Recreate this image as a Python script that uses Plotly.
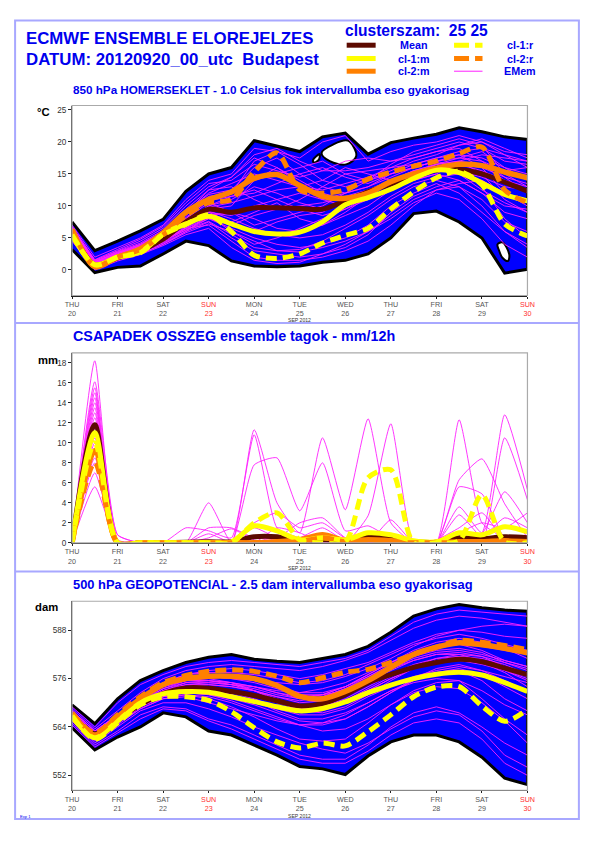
import plotly.graph_objects as go

# ---------------- time axis (hours after 2012-09-20 00 UTC) ----------------
steps_h = [0, 12, 24, 36, 48, 60, 72, 84, 96, 108, 120, 132, 144, 156, 168, 180, 192, 204, 216, 228, 240]
tick_h = [0, 24, 48, 72, 96, 120, 144, 168, 192, 216, 240]
day_names = ["THU", "FRI", "SAT", "SUN", "MON", "TUE", "WED", "THU", "FRI", "SAT", "SUN"]
day_nums = ["20", "21", "22", "23", "24", "25", "26", "27", "28", "29", "30"]

# ---------------- 850 hPa temperature (deg C) ----------------
t_env_upper = [7.5, 3.0, 4.5, 6.1, 7.9, 12.3, 15.0, 16.0, 20.2, 19.4, 18.5, 20.8, 21.4, 18.1, 19.9, 20.6, 21.2, 22.2, 21.6, 20.8, 20.4]
t_env_lower = [3.2, -0.4, 0.4, 0.6, 2.5, 4.5, 3.8, 1.4, 0.6, 0.5, 0.6, 1.2, 1.5, 2.5, 5.0, 8.8, 9.2, 7.5, 5.0, -0.5, 0.1]
t_hole1_h = [131.5, 137.5, 145.4, 149.8, 144.5, 135.8]
t_hole1_v = [18.3, 19.6, 20.2, 17.8, 16.5, 17.0]
t_hole2_h = [127.0, 130.5, 130.0, 127.5]
t_hole2_v = [17.2, 18.1, 17.2, 16.8]
t_hole3_h = [224.2, 226.8, 230.4, 229.7, 226.8, 225.1]
t_hole3_v = [4.0, 4.3, 2.45, 1.4, 1.9, 3.0]
t_mean = [6.0, 0.8, 1.9, 3.0, 4.8, 7.5, 9.5, 9.0, 9.7, 9.7, 9.6, 9.5, 10.8, 12.2, 13.4, 14.6, 15.6, 15.7, 15.0, 13.7, 12.3]
t_cl1_m = [5.5, 0.8, 2.0, 2.8, 5.6, 7.2, 8.4, 7.2, 6.0, 5.6, 5.9, 7.5, 10.2, 11.3, 12.6, 14.3, 15.6, 15.2, 13.6, 11.8, 10.8]
t_cl2_m = [6.3, 0.5, 2.0, 3.3, 5.8, 9.0, 11.0, 12.2, 14.3, 14.9, 13.2, 11.5, 11.2, 12.0, 13.8, 15.0, 15.9, 16.5, 16.3, 15.3, 14.4]
t_cl1_r = [5.5, 0.8, 2.0, 2.7, 5.5, 7.1, 8.6, 6.0, 2.3, 1.8, 2.5, 4.2, 5.4, 6.5, 9.5, 12.2, 14.4, 15.4, 13.3, 7.2, 5.3]
t_cl2_r = [6.3, 0.6, 2.0, 3.2, 5.5, 8.5, 10.5, 11.0, 15.3, 18.3, 12.5, 12.0, 12.5, 14.2, 15.3, 16.2, 17.0, 18.2, 19.2, 12.5, 10.5]
t_members = [
    [6.5, 1.2, 2.5, 3.8, 5.5, 8.0, 11.0, 12.5, 16.0, 17.5, 15.0, 13.0, 12.0, 13.0, 15.0, 16.0, 17.0, 18.0, 17.5, 16.0, 15.0],
    [5.8, 0.8, 2.0, 3.0, 4.5, 6.5, 8.0, 6.5, 5.0, 4.0, 3.5, 4.0, 5.0, 7.0, 10.0, 12.0, 13.5, 12.0, 9.0, 6.0, 4.0],
    [6.0, 1.0, 2.2, 3.5, 5.0, 7.5, 10.0, 11.0, 13.0, 12.0, 10.5, 9.5, 10.5, 12.5, 14.0, 15.5, 16.0, 15.0, 14.0, 12.0, 11.0],
    [5.5, 0.5, 1.8, 2.8, 4.2, 6.0, 7.5, 5.0, 3.0, 2.5, 2.0, 2.5, 3.5, 5.5, 9.0, 11.5, 13.0, 14.0, 12.0, 9.0, 8.0],
    [6.8, 1.5, 3.0, 4.5, 6.5, 10.0, 13.0, 14.5, 18.0, 19.0, 17.0, 15.5, 15.5, 16.0, 17.0, 18.0, 19.0, 20.0, 19.0, 17.0, 16.5],
    [6.2, 1.0, 2.5, 3.5, 5.0, 7.0, 9.0, 8.5, 10.0, 11.0, 12.0, 11.0, 10.0, 11.0, 13.0, 14.5, 15.5, 16.5, 15.5, 14.0, 13.0],
    [5.0, 0.2, 1.5, 2.5, 4.0, 6.0, 8.5, 9.0, 8.0, 6.5, 6.0, 7.0, 8.5, 10.0, 12.5, 14.0, 15.0, 14.0, 12.0, 10.0, 9.5],
    [6.6, 1.3, 2.8, 4.0, 6.0, 9.0, 12.0, 13.5, 15.0, 14.0, 13.0, 12.5, 13.5, 14.5, 16.0, 17.5, 18.5, 19.0, 17.0, 14.5, 12.0],
    [5.7, 0.8, 2.0, 3.2, 4.8, 7.0, 9.5, 10.0, 14.0, 16.0, 14.0, 12.0, 11.0, 12.0, 14.0, 15.0, 16.5, 17.0, 18.0, 17.5, 17.0],
    [6.3, 1.1, 2.3, 3.6, 5.2, 8.0, 10.5, 9.0, 7.0, 8.0, 9.0, 10.0, 12.0, 13.0, 14.5, 16.0, 17.0, 16.0, 13.0, 8.0, 5.0],
    [5.2, 0.4, 1.6, 2.9, 4.5, 6.5, 7.0, 4.5, 2.0, 1.5, 1.5, 2.0, 3.0, 4.5, 7.0, 10.0, 12.5, 13.0, 11.0, 7.5, 6.0],
    [6.1, 0.9, 2.4, 3.4, 5.5, 8.5, 11.5, 12.0, 17.0, 18.5, 16.5, 14.0, 13.0, 14.0, 15.5, 17.0, 18.0, 19.5, 20.0, 18.5, 18.0],
    [5.9, 1.0, 2.1, 3.3, 4.9, 7.2, 9.0, 7.5, 9.0, 10.5, 8.0, 7.0, 9.0, 11.5, 13.5, 15.0, 16.0, 15.5, 14.5, 13.0, 12.5],
    [6.4, 1.4, 2.6, 3.9, 5.8, 8.8, 12.5, 13.0, 11.0, 9.5, 11.0, 13.0, 15.0, 15.5, 16.0, 16.5, 17.5, 18.0, 16.0, 12.0, 10.0],
    [5.4, 0.6, 1.9, 3.1, 4.4, 6.8, 8.5, 6.0, 4.0, 5.0, 6.5, 8.0, 9.5, 11.0, 13.0, 14.0, 15.0, 17.0, 15.0, 11.0, 9.0],
    [6.0, 1.2, 2.7, 3.7, 5.3, 7.8, 10.0, 11.5, 12.0, 13.5, 15.0, 16.0, 14.5, 13.5, 15.0, 16.0, 17.0, 17.5, 18.5, 16.0, 14.0],
    [5.6, 0.7, 2.0, 3.0, 4.6, 6.2, 8.0, 7.0, 6.0, 7.5, 8.5, 9.0, 11.0, 12.0, 13.5, 15.5, 16.5, 15.0, 12.5, 10.5, 9.0],
    [6.7, 1.6, 3.2, 4.8, 6.8, 10.5, 13.5, 14.0, 16.5, 15.5, 14.5, 15.5, 17.0, 17.5, 17.0, 17.5, 18.5, 19.5, 20.5, 19.0, 17.5],
    [4.5, 0.0, 1.4, 2.4, 3.8, 5.5, 6.5, 3.5, 1.5, 1.0, 1.2, 2.5, 4.0, 6.0, 8.5, 11.0, 12.5, 13.5, 14.0, 12.0, 10.5],
    [7.0, 2.0, 3.5, 5.0, 7.0, 11.0, 14.0, 15.0, 19.0, 18.5, 17.5, 20.0, 21.0, 17.0, 18.5, 19.5, 20.0, 21.0, 20.0, 18.0, 17.0],
    [5.3, 0.3, 1.7, 2.6, 4.0, 5.8, 7.2, 6.0, 4.5, 3.0, 2.8, 3.5, 4.5, 6.0, 8.0, 10.5, 12.0, 11.0, 8.0, 4.0, 2.0],
    [6.5, 1.5, 2.9, 4.2, 6.2, 9.5, 12.5, 14.5, 17.5, 16.0, 13.5, 11.0, 12.0, 14.0, 16.5, 18.5, 19.5, 20.5, 19.5, 15.0, 13.0],
    [5.9, 0.9, 2.2, 3.3, 4.7, 7.0, 9.8, 10.5, 11.5, 12.5, 13.0, 14.0, 16.0, 15.0, 14.0, 15.5, 16.5, 17.5, 17.0, 15.5, 16.0],
    [6.1, 1.0, 2.3, 3.5, 5.1, 7.6, 9.2, 8.0, 6.5, 5.5, 5.0, 5.5, 7.0, 9.0, 11.5, 13.5, 14.5, 15.0, 13.5, 11.5, 11.0],
    [5.6, 0.6, 1.9, 3.0, 4.6, 6.6, 8.2, 7.0, 8.5, 9.5, 10.0, 10.5, 11.5, 12.5, 14.0, 15.0, 16.0, 16.5, 16.0, 14.5, 13.5],
    [6.4, 1.3, 2.7, 4.0, 5.9, 9.2, 11.8, 12.5, 14.0, 15.0, 16.0, 17.0, 15.0, 14.0, 15.0, 16.5, 17.5, 18.5, 19.0, 18.0, 16.0],
    [5.1, 0.3, 1.6, 2.7, 4.3, 6.3, 7.6, 5.5, 3.5, 3.0, 3.2, 4.5, 6.5, 8.5, 11.0, 13.0, 14.0, 13.0, 10.0, 6.0, 3.5],
    [6.2, 1.1, 2.5, 3.7, 5.4, 8.2, 10.8, 11.5, 12.5, 11.0, 9.5, 8.5, 9.5, 11.5, 13.5, 15.0, 16.5, 17.0, 16.5, 14.0, 12.5],
]

# ---------------- 12h precipitation (mm) ----------------
p_mean = [0, 11.8, 0, 0, 0, 0.05, 0.1, 0.1, 0.6, 0.6, 0.2, 0.3, 0.2, 0.6, 0.4, 0.1, 0.05, 0.5, 0.4, 0.6, 0.5]
p_cl1_m = [0, 11.0, 0, 0, 0, 0, 0, 0.1, 1.7, 1.2, 0.3, 0.5, 0.3, 1.0, 0.8, 0.2, 0.1, 1.0, 0.8, 1.6, 1.1]
p_cl2_m = [0, 9.2, 0, 0, 0, 0, 0, 0, 0, 0.1, 0.3, 0.8, 0.2, 0.3, 0.2, 0, 0, 0.1, 0.1, 0.2, 0.1]
p_cl1_r = [0, 10.0, 0, 0, 0, 0, 0, 0, 2.0, 3.0, 0.3, 0, 0.1, 6.5, 7.3, 0, 0, 0.2, 4.8, 0.1, 0]
p_cl2_r = [0, 8.0, 0, 0, 0, 0, 0, 0, 0, 0, 0.1, 0.5, 0.1, 0, 0, 0, 0, 0, 0, 0, 0]
p_members = [
    [0, 18.2, 0, 0, 0, 0, 0, 0, 1.5, 0.5, 0.3, 0.2, 0, 0, 0, 0, 0, 12.3, 2.0, 0.5, 0.3],
    [0, 16.1, 0.8, 0, 0, 0, 0, 0, 11.3, 4.0, 1.0, 10.5, 3.3, 12.4, 2.0, 0, 0, 0.5, 1.0, 12.8, 5.3],
    [0, 15.5, 0, 0, 0, 0, 4.0, 0, 0, 0, 0, 0, 0, 0, 0, 0, 0, 0, 0, 0, 0],
    [0, 15.0, 0, 0, 0, 1.5, 1.2, 0.5, 10.8, 1.5, 0.5, 0.3, 0, 2.7, 11.9, 0, 0, 6.3, 8.4, 3.9, 0.5],
    [0, 14.5, 0, 0, 0, 0, 0, 0, 7.8, 8.5, 3.2, 8.0, 1.2, 1.7, 0.5, 0, 0, 0, 0, 10.5, 4.3],
    [0, 14.0, 0.8, 0, 0, 0, 1.5, 1.5, 0.5, 0.5, 2.0, 2.5, 0.5, 0, 0, 0, 0, 5.6, 4.9, 0.5, 0],
    [0, 13.5, 0, 0, 0, 0, 0.9, 0, 0, 0, 0, 0, 0, 0, 2.3, 0, 0, 3.6, 1.0, 5.1, 2.0],
    [0, 13.0, 0, 0, 0, 0, 0, 0, 2.0, 3.0, 1.5, 2.0, 0.5, 0.8, 0, 0, 0, 2.8, 0.5, 0, 0],
    [0, 12.5, 0, 0, 0, 0, 0.5, 1.4, 0.3, 0, 0, 0, 0, 0, 0, 0, 0, 0, 0, 0, 0],
    [0, 12.0, 0, 0, 0, 0, 0, 0, 0, 1.5, 1.0, 0, 0, 0, 0, 0, 0, 1.0, 2.0, 1.5, 3.0],
    [0, 11.5, 0.3, 0, 0, 0, 0, 0, 0, 0, 0, 0.8, 0, 0, 0, 0, 0.3, 1.5, 3.0, 0.3, 0],
    [0, 11.0, 0, 0, 0, 0, 0, 0, 0.6, 0, 0, 0, 0.5, 0.4, 0, 0, 0, 0, 0, 0, 0],
    [0, 10.5, 0, 0, 0, 0, 0, 0, 0, 0, 0.5, 1.5, 0.2, 0, 0, 0, 0, 0, 0.5, 2.5, 1.5],
    [0, 10.0, 0, 0, 0, 0, 0, 0, 0, 0, 0, 0, 0, 0, 0, 0, 0, 0.5, 0, 0, 0],
    [0, 9.5, 0, 0, 0, 0, 0, 0, 0, 0.4, 0, 0, 0, 0, 0, 0, 0, 0, 0, 0, 0],
    [0, 9.0, 0, 0, 0, 0, 0, 0, 0, 0, 0, 0, 0, 0, 0, 0, 0, 0, 0, 0, 0],
    [0, 8.5, 0, 0, 0, 0, 0, 0, 0, 0, 0, 0, 0, 0, 0, 0, 0, 0, 0, 0, 0],
    [0, 8.0, 0, 0, 0, 0, 0, 0, 0, 0, 0, 0, 0, 0, 0, 0, 0, 0, 0, 0, 0],
    [0, 7.0, 0, 0, 0, 0, 0, 0, 0, 0, 0, 0, 0, 0, 0, 0, 0, 0, 0, 0, 0],
    [0, 5.6, 0, 0, 0, 0, 0, 0, 0, 0, 0, 0, 0, 0, 0, 0, 0, 0, 0, 0, 0],
]

# ---------------- 500 hPa geopotential (dam) ----------------
g_env_upper = [569.5, 564.8, 571.0, 575.5, 578.0, 580.0, 581.3, 582.0, 580.8, 580.3, 580.0, 581.0, 582.0, 584.0, 587.5, 591.5, 593.3, 594.4, 593.6, 593.0, 592.7]
g_env_lower = [563.8, 558.3, 561.5, 564.0, 567.5, 566.5, 563.0, 562.0, 559.5, 557.0, 554.2, 553.6, 552.2, 556.8, 560.3, 562.0, 562.0, 560.3, 556.5, 551.3, 549.7]
g_mean = [567.0, 562.3, 566.0, 569.5, 572.3, 573.7, 573.6, 572.8, 571.8, 570.5, 569.2, 569.8, 572.0, 575.0, 577.0, 578.8, 580.0, 580.8, 580.2, 578.6, 577.0]
g_cl1_m = [566.5, 561.3, 565.5, 570.0, 572.2, 572.8, 572.6, 571.5, 570.3, 569.0, 568.0, 568.6, 570.2, 572.5, 574.4, 576.0, 577.1, 577.6, 576.9, 575.0, 572.8]
g_cl2_m = [567.3, 562.0, 566.5, 571.0, 574.5, 576.0, 576.6, 576.6, 576.0, 574.3, 571.6, 571.0, 572.8, 575.5, 578.8, 582.0, 583.8, 584.9, 584.4, 583.5, 582.4]
g_cl1_r = [566.8, 561.0, 565.0, 569.5, 571.5, 571.5, 570.6, 567.8, 563.8, 560.3, 558.8, 560.0, 559.3, 562.8, 567.0, 571.5, 573.9, 574.0, 569.2, 565.4, 568.3]
g_cl2_r = [567.5, 562.5, 567.0, 571.5, 575.0, 576.8, 577.8, 578.2, 577.8, 576.6, 575.0, 576.2, 577.6, 578.3, 580.0, 582.0, 583.8, 585.5, 585.0, 584.2, 583.2]
g_members = [
    [567, 562, 566, 570, 573, 575, 575.5, 575, 574, 572.5, 571, 571.5, 573.5, 576.5, 579.5, 582, 583.5, 584.5, 584, 583, 582],
    [566, 561, 565, 569, 571.5, 572, 571, 569, 566.5, 563.5, 561, 560.5, 561, 565, 569.5, 573, 575, 575.5, 571, 566, 562],
    [568, 563, 567, 571.5, 575, 577, 578, 578.5, 578, 577, 576, 577, 578.5, 580, 582.5, 585, 587, 588, 587.5, 586.5, 586],
    [566.5, 561.5, 565.5, 569.5, 572, 573, 572.5, 571.5, 570, 568.5, 567, 567, 568.5, 571.5, 574, 576.5, 578, 579, 578, 576.5, 575],
    [567.5, 562.5, 566.5, 570.5, 573.5, 575.5, 576, 575, 573, 570.5, 568, 567.5, 569, 572, 575.5, 578.5, 580.5, 581, 580, 577.5, 574],
    [565.5, 560, 564, 568, 570, 570, 568.5, 566.5, 564, 562, 560, 558.5, 557.5, 560, 563.5, 566.5, 568, 567, 563, 557, 554],
    [567, 562, 566, 570.5, 574, 576, 576.5, 576, 575.5, 575, 574.5, 575, 576.5, 578.5, 581, 584, 586.5, 588, 589, 589.5, 589],
    [566, 561, 565, 569, 572, 573.5, 573.5, 572.5, 571, 569, 567.5, 568, 570, 573, 576, 578.5, 580, 580.5, 579.5, 578, 576.5],
    [568.5, 563.5, 568, 572.5, 576, 578, 579, 579.5, 579, 578.5, 578, 579, 580.5, 582.5, 585.5, 588.5, 590.5, 591.5, 591, 590, 589],
    [565, 559.5, 563, 567, 569, 568.5, 566, 564.5, 562, 559.5, 557, 556, 556, 559.5, 564, 567.5, 569, 567.5, 564, 560, 557],
    [567, 562, 566.5, 570, 573, 574.5, 574.5, 574, 573, 571.5, 570, 570.5, 572.5, 575.5, 578.5, 581, 582.5, 583, 582, 580.5, 579],
    [566.5, 561.5, 565.5, 569.5, 572.5, 574, 574, 573, 571.5, 570, 568.5, 569, 571, 574, 577, 579.5, 581, 581.5, 580.5, 578, 575.5],
    [567.5, 562.5, 567, 571, 574.5, 576.5, 577, 576.5, 575.5, 574, 572.5, 572.5, 574, 576.5, 579, 581.5, 583, 583.5, 582.5, 580, 578],
    [566, 561, 565, 568.5, 571, 572, 571.5, 570, 568, 566, 564.5, 564.5, 566, 569, 572.5, 575.5, 577.5, 578, 575.5, 571, 568],
    [568, 563, 567, 571, 574, 575.5, 575.5, 574.5, 573, 571.5, 570.5, 571.5, 573.5, 576, 578.5, 580.5, 582, 582.5, 581.5, 579, 577],
    [565.5, 560.5, 564.5, 568.5, 571, 571.5, 570, 568.5, 567, 565.5, 564.5, 565, 567, 570, 573, 575, 576, 575.5, 573, 569.5, 567],
    [567, 562, 566, 570, 573.5, 575, 575, 574.5, 573.5, 572, 571, 572, 574, 577, 580, 582.5, 584, 585, 584.5, 583.5, 582.5],
    [566.5, 561.5, 565.5, 569.5, 572, 573, 573, 572, 570.5, 568, 566, 566, 567.5, 570, 573, 575.5, 577.5, 578.5, 577, 574, 571],
    [564.5, 559, 562.5, 566, 568.5, 568, 565.5, 563.5, 561, 558.5, 556, 555, 555, 558, 562, 565, 566, 565, 561, 555, 552],
    [569, 564, 570, 574.5, 577, 579, 580, 580.5, 580, 579.5, 579, 580, 581, 583, 586.5, 590, 592, 593, 592.5, 592, 591.5],
    [567, 562, 566, 570, 573, 574.5, 575, 574.5, 574, 573, 572.5, 573.5, 575, 577.5, 580, 583, 585, 586, 585, 583.5, 581],
    [566.5, 561.5, 565, 569, 571.5, 572.5, 572, 571, 569.5, 567.5, 565.5, 565, 566, 569, 572.5, 576, 578.5, 579.5, 578, 575.5, 573],
    [567.5, 562.5, 566.5, 570.5, 574, 576, 576.5, 576, 575, 573.5, 572, 572, 573, 575.5, 578, 580.5, 582, 582, 580.5, 578, 576],
    [566, 561, 565, 569, 571.5, 572.5, 572, 570.5, 568.5, 566.5, 564.5, 563, 563.5, 566, 569.5, 572.5, 574, 573.5, 570, 565.5, 560],
    [568, 563, 567, 571.5, 575, 577, 577.5, 577.5, 577, 576, 575, 575.5, 577, 579.5, 582, 584.5, 586, 587, 586, 584.5, 583],
    [567, 562, 566, 570, 572.5, 573.5, 573, 572, 570.5, 569, 568, 568.5, 570.5, 573.5, 576.5, 579, 581, 582, 581.5, 580, 578.5],
    [566.5, 561.5, 565.5, 569.5, 572.5, 574, 574.5, 574, 573, 571, 569, 569, 570.5, 573, 576, 578.5, 580.5, 581.5, 581, 579.5, 577],
    [567.5, 562.5, 567, 571, 574, 575.5, 575.5, 575, 574, 572.5, 571.5, 572, 574, 577, 580, 582.5, 584, 584.5, 583, 580.5, 579],
]

# ---------------- styles ----------------
W, H = 595, 841
FONT = "Liberation Sans, Arial, Helvetica, sans-serif"
BLUE_TXT = "#0000ee"
C_MEAN = "#5c0a00"
C_YEL = "#ffff00"
C_ORA = "#ff8000"
C_MAG = "#ff20ff"
C_ENV = "#0000ff"
DASH = "11px,6px"

# the photographed page shows the 595x841 canvas slightly shrunk and offset;
# target pixel positions below are converted through this measured mapping
SX, OX = 0.976, 6.9
SY, OY = 0.994, 0.5
FS = 1.0 / SX


def px(x):
    return ((x - OX) / SX) / W


def py(y):
    return 1 - ((y - OY) / SY) / H


fig = go.Figure()


def add_panel(n, members, mean, c1m, c2m, c1r, c2r, env=None, holes=(), spline_members=False):
    xa = "x" if n == 1 else f"x{n}"
    ya = "y" if n == 1 else f"y{n}"
    if env is not None:
        up, lo = env
        fig.add_trace(go.Scatter(x=steps_h + steps_h[::-1], y=up + lo[::-1], xaxis=xa, yaxis=ya,
                                 mode="lines", fill="toself", fillcolor=C_ENV,
                                 line=dict(color="black", width=3), hoverinfo="skip"))
        for hx, hy in holes:
            fig.add_trace(go.Scatter(x=hx + hx[:1], y=hy + hy[:1], xaxis=xa, yaxis=ya,
                                     mode="lines", fill="toself", fillcolor="white",
                                     line=dict(color="black", width=2, shape="spline"), hoverinfo="skip"))
    for m in members:
        fig.add_trace(go.Scatter(x=steps_h, y=m, xaxis=xa, yaxis=ya, mode="lines",
                                 line=dict(color=C_MAG, width=0.9,
                                           shape="spline" if spline_members else "linear",
                                           smoothing=0.5),
                                 hoverinfo="skip"))
    sp = dict(shape="spline", smoothing=0.8)
    fig.add_trace(go.Scatter(x=steps_h, y=mean, xaxis=xa, yaxis=ya, mode="lines",
                             line=dict(color=C_MEAN, width=5, **sp)))
    fig.add_trace(go.Scatter(x=steps_h, y=c2m, xaxis=xa, yaxis=ya, mode="lines",
                             line=dict(color=C_ORA, width=5.5, **sp)))
    fig.add_trace(go.Scatter(x=steps_h, y=c1m, xaxis=xa, yaxis=ya, mode="lines",
                             line=dict(color=C_YEL, width=5, **sp)))
    fig.add_trace(go.Scatter(x=steps_h, y=c2r, xaxis=xa, yaxis=ya, mode="lines",
                             line=dict(color=C_ORA, width=5, dash=DASH, **sp)))
    fig.add_trace(go.Scatter(x=steps_h, y=c1r, xaxis=xa, yaxis=ya, mode="lines",
                             line=dict(color=C_YEL, width=5, dash=DASH, **sp)))


add_panel(1, t_members, t_mean, t_cl1_m, t_cl2_m, t_cl1_r, t_cl2_r,
          env=(t_env_upper, t_env_lower),
          holes=[(t_hole1_h, t_hole1_v), (t_hole2_h, t_hole2_v), (t_hole3_h, t_hole3_v)])
add_panel(2, p_members, p_mean, p_cl1_m, p_cl2_m, p_cl1_r, p_cl2_r, spline_members=True)
add_panel(3, g_members, g_mean, g_cl1_m, g_cl2_m, g_cl1_r, g_cl2_r,
          env=(g_env_upper, g_env_lower))

ticktext = []
for nm, dn in zip(day_names, day_nums):
    if nm == "SUN":
        ticktext.append(f"<span style='color:#ff3030'>{nm}</span><br><span style='color:#ff3030'>{dn}</span>")
    else:
        ticktext.append(f"{nm}<br>{dn}")

xdom = [px(72), px(528)]
xcommon = dict(range=[0, 240], tickvals=tick_h, ticktext=ticktext, showgrid=False, zeroline=False,
               showline=True, linecolor="#222", linewidth=1, ticks="outside", ticklen=2,
               tickcolor="#222", tickfont=dict(family=FONT, size=7 * FS, color="#555"), domain=xdom)
ycommon = dict(showgrid=False, zeroline=False, showline=True, linecolor="#222", linewidth=1,
               ticks="outside", ticklen=3, tickcolor="#222",
               tickfont=dict(family=FONT, size=8 * FS, color="#333"))

layout = dict(
    width=W, height=H, margin=dict(l=0, r=0, t=0, b=0),
    paper_bgcolor="white", plot_bgcolor="white", showlegend=False,
    xaxis=dict(**xcommon, anchor="y"),
    xaxis2=dict(**xcommon, anchor="y2"),
    xaxis3=dict(**xcommon, anchor="y3"),
    yaxis=dict(**ycommon, range=[-4, 25.7], tickvals=[0, 5, 10, 15, 20, 25],
               domain=[py(296), py(106)], anchor="x"),
    yaxis2=dict(**ycommon, range=[0, 19], tickvals=[0, 2, 4, 6, 8, 10, 12, 14, 16, 18],
                domain=[py(543.3), py(353.3)], anchor="x2"),
    yaxis3=dict(**ycommon, range=[548.3, 595.2], tickvals=[552, 564, 576, 588],
                domain=[py(790.7), py(601.7)], anchor="x3"),
)
fig.update_layout(**layout)

shapes = []
# outer blue frame and panel separators
shapes.append(dict(type="rect", xref="paper", yref="paper", x0=px(15), x1=px(579.5), y0=py(819.5), y1=py(21),
                   line=dict(color="#a8a8ff", width=2)))
for ysep in (323.5, 572):
    shapes.append(dict(type="line", xref="paper", yref="paper", x0=px(15), x1=px(579.5), y0=py(ysep), y1=py(ysep),
                       line=dict(color="#a8a8ff", width=2)))
# light grey plot frames
for n in ("", "2", "3"):
    shapes.append(dict(type="rect", xref=f"x{n} domain", yref=f"y{n} domain", x0=0, x1=1, y0=0, y1=1,
                       line=dict(color="#aaaaaa", width=1.2), layer="above"))

# legend samples
leg_rows = [45.7, 59, 71.7]
left_items = [(C_MEAN, None, 5), (C_YEL, None, 5), (C_ORA, None, 5)]
right_items = [(C_YEL, "15px,6px", 5), (C_ORA, "15px,6px", 5), (C_MAG, None, 1)]
for yy, (c, d, w) in zip(leg_rows, left_items):
    shapes.append(dict(type="line", xref="paper", yref="paper", x0=px(347), x1=px(376), y0=py(yy), y1=py(yy),
                       line=dict(color=c, width=w, dash=d) if d else dict(color=c, width=w)))
for yy, (c, d, w) in zip(leg_rows, right_items):
    shapes.append(dict(type="line", xref="paper", yref="paper", x0=px(454.5), x1=px(483), y0=py(yy), y1=py(yy),
                       line=dict(color=c, width=w, dash=d) if d else dict(color=c, width=w)))
fig.update_layout(shapes=shapes)

ann = []


def text(x, y, s, size, color=BLUE_TXT, bold=True, xanchor="left"):
    ann.append(dict(xref="paper", yref="paper", x=px(x), y=py(y), text=f"<b>{s}</b>" if bold else s,
                    showarrow=False, xanchor=xanchor, yanchor="middle",
                    font=dict(family=FONT, size=size * FS, color=color)))


text(24, 39, "ECMWF ENSEMBLE ELOREJELZES", 16.4)
text(24, 60, "DATUM: 20120920_00_utc  Budapest", 16.4)
text(343, 31, "clusterszam:  25 25", 15.2)
for yy, s in zip(leg_rows, ["Mean", "cl-1:m", "cl-2:m"]):
    text(414, yy, s, 10.5, xanchor="center")
for yy, s in zip(leg_rows, ["cl-1:r", "cl-2:r", "EMem"]):
    text(521, yy, s, 10.5, xanchor="center")
text(71, 90, "850 hPa HOMERSEKLET - 1.0 Celsius fok intervallumba eso gyakorisag", 11.4)
text(71, 336, "CSAPADEK OSSZEG ensemble tagok - mm/12h", 14)
text(71, 585, "500 hPa GEOPOTENCIAL - 2.5 dam intervallumba eso gyakorisag", 12.6)
text(35, 112, "°C", 11, color="black")
text(36, 360, "mm", 11, color="black")
text(33, 607, "dam", 11, color="black")
text(18, 817, "Exp 1", 4, bold=False)
for ysep in (320.8, 568.5, 816):
    ann.append(dict(xref="x", yref="paper", x=120, y=py(ysep), text="SEP 2012", showarrow=False,
                    xanchor="center", yanchor="middle", font=dict(family=FONT, size=5 * FS, color="#333")))
fig.update_layout(annotations=ann)

PAGE_JS = (
    "document.documentElement.style.margin='0';document.documentElement.style.padding='0';"
    "document.documentElement.style.overflow='hidden';"
    "document.body.style.margin='0';document.body.style.padding='0';document.body.style.overflow='hidden';"
    "var gd=document.getElementsByClassName('plotly-graph-div')[0];"
    "gd.style.position='fixed';gd.style.left='0px';gd.style.top='0px';"
)
fig.write_html("out.html", config={"displayModeBar": False}, post_script=PAGE_JS)
